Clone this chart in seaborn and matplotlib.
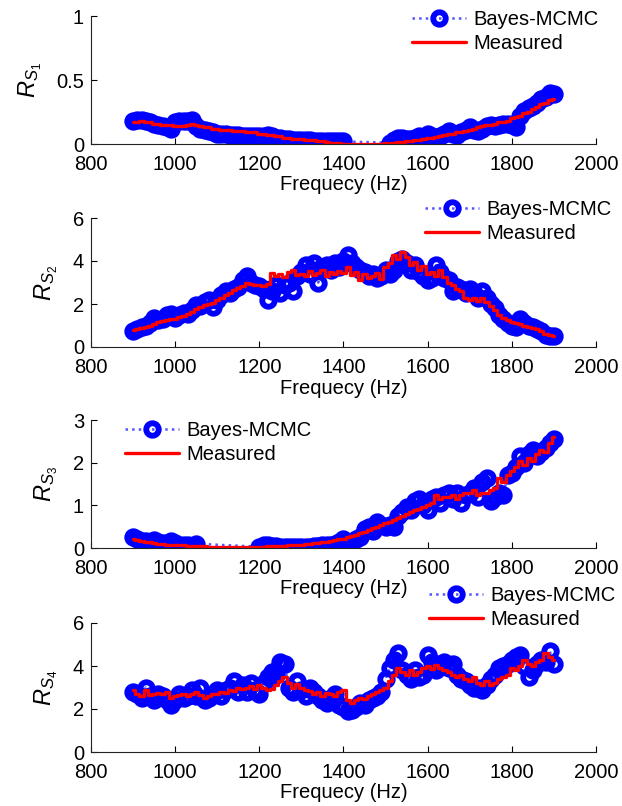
import numpy as np
import matplotlib
matplotlib.use("Agg")
import matplotlib.pyplot as plt
import seaborn as sns

# frequency grid of the measured curves (Hz)
freq = list(range(900, 1901, 10))

# ---- R_S1 ----
rs1_measured = [
    0.17, 0.17, 0.18, 0.17, 0.17, 0.16, 0.16, 0.15, 0.15, 0.15,
    0.14, 0.14, 0.14, 0.15, 0.16, 0.15, 0.14, 0.13, 0.13, 0.12,
    0.12, 0.11, 0.11, 0.11, 0.10, 0.10, 0.10, 0.09, 0.09, 0.09,
    0.08, 0.08, 0.07, 0.07, 0.06, 0.06, 0.05, 0.05, 0.04, 0.04,
    0.04, 0.03, 0.03, 0.03, 0.02, 0.02, 0.015, 0.01, 0.01, 0.005,
    0.003, 0.002, 0.001, 0.0, 0.0, 0.0, 0.0, 0.0, 0.0, 0.002,
    0.004, 0.006, 0.01, 0.013, 0.017, 0.02, 0.025, 0.03, 0.035, 0.04,
    0.045, 0.05, 0.055, 0.06, 0.07, 0.075, 0.08, 0.09, 0.095, 0.10,
    0.11, 0.12, 0.13, 0.14, 0.145, 0.15, 0.16, 0.17, 0.17, 0.18,
    0.20, 0.21, 0.22, 0.24, 0.25, 0.27, 0.29, 0.31, 0.32, 0.34,
    0.35,
]
rs1_bayes_freq = list(range(900, 1401, 10)) + list(range(1510, 1901, 10))
rs1_bayes = [
    0.18, 0.19, 0.19, 0.18, 0.17, 0.16, 0.15, 0.14, 0.13, 0.12,
    0.17, 0.18, 0.18, 0.18, 0.19, 0.14, 0.12, 0.11, 0.10, 0.09,
    0.08, 0.08, 0.08, 0.07, 0.07, 0.07, 0.06, 0.06, 0.06, 0.06,
    0.06, 0.06, 0.07, 0.06, 0.05, 0.05, 0.04, 0.04, 0.03, 0.03,
    0.03, 0.03, 0.03, 0.02, 0.02, 0.02, 0.02, 0.02, 0.02, 0.02, 0.02,
    0.01, 0.03, 0.05, 0.05, 0.04, 0.04, 0.05, 0.06, 0.05,
    0.08, 0.06, 0.05, 0.06, 0.08, 0.10, 0.08, 0.07, 0.09, 0.11,
    0.13, 0.11, 0.10, 0.12, 0.14, 0.15, 0.14, 0.15, 0.16, 0.16,
    0.15, 0.13, 0.22, 0.26, 0.28, 0.30, 0.32, 0.35, 0.37, 0.40,
    0.39,
]

# ---- R_S2 ----
rs2_measured = [
    0.80, 0.85, 0.88, 0.95, 1.00, 1.05, 1.15, 1.20, 1.25, 1.30,
    1.30, 1.40, 1.45, 1.55, 1.65, 1.75, 1.85, 1.95, 2.00, 2.05,
    2.20, 2.30, 2.40, 2.50, 2.65, 2.75, 2.85, 3.00, 2.95, 2.90,
    2.90, 2.85, 2.95, 3.45, 3.30, 3.40, 3.25, 3.50, 3.60, 3.35,
    3.40, 3.30, 3.55, 3.35, 3.45, 3.60, 3.30, 3.50, 3.40, 3.55,
    3.45, 3.70, 3.35, 3.50, 3.10, 3.40, 3.20, 3.30, 3.45, 3.15,
    3.70, 3.90, 4.30, 4.10, 4.40, 4.20, 3.80, 3.95, 3.60, 3.75,
    3.40, 3.50, 3.30, 3.60, 3.25, 3.00, 2.90, 2.70, 2.60, 2.30,
    2.20, 2.30, 2.15, 2.30, 2.10, 1.90, 1.70, 1.50, 1.35, 1.25,
    1.15, 1.10, 1.05, 1.00, 0.95, 0.90, 0.85, 0.75, 0.60, 0.55,
    0.50,
]
rs2_bayes_freq = freq
rs2_bayes = [
    0.75, 0.85, 0.95, 1.00, 1.10, 1.35, 1.25, 1.30, 1.50, 1.55,
    1.35, 1.50, 1.60, 1.55, 1.70, 1.95, 1.90, 2.10, 2.20, 1.85,
    2.20, 2.40, 2.60, 2.50, 2.70, 2.80, 3.10, 3.30, 3.00, 2.90,
    2.85, 2.70, 2.20, 2.60, 2.90, 2.50, 2.90, 3.00, 2.60, 3.30,
    3.50, 3.80, 3.40, 3.90, 3.00, 3.70, 3.80, 3.60, 3.90, 3.70,
    4.00, 4.30, 3.90, 3.70, 3.60, 3.50, 3.30, 3.40, 3.20, 3.30,
    3.60, 3.40, 3.60, 4.00, 4.10, 3.90, 3.60, 3.80, 3.50, 3.30,
    3.10, 3.20, 3.80, 3.50, 3.20, 3.10, 2.60, 2.80, 2.70, 2.50,
    2.70, 2.50, 2.30, 2.60, 2.30, 2.00, 1.80, 1.50, 1.30, 1.10,
    1.00, 0.95, 1.30, 1.10, 1.00, 0.95, 0.85, 0.75, 0.55, 0.50,
    0.50,
]

# ---- R_S3 ----
rs3_measured = [
    0.20, 0.18, 0.16, 0.14, 0.13, 0.12, 0.10, 0.09, 0.08, 0.07,
    0.07, 0.06, 0.06, 0.05, 0.05, 0.04, 0.04, 0.04, 0.03, 0.03,
    0.03, 0.03, 0.03, 0.03, 0.03, 0.03, 0.03, 0.03, 0.03, 0.03,
    0.03, 0.03, 0.04, 0.04, 0.04, 0.05, 0.05, 0.06, 0.06, 0.07,
    0.08, 0.09, 0.10, 0.11, 0.12, 0.13, 0.15, 0.16, 0.18, 0.20,
    0.22, 0.25, 0.28, 0.31, 0.35, 0.38, 0.42, 0.46, 0.50, 0.54,
    0.58, 0.62, 0.66, 0.70, 0.76, 0.80, 0.85, 0.88, 0.92, 0.96,
    1.00, 1.05, 1.25, 1.15, 1.20, 1.20, 1.25, 1.15, 1.25, 1.30,
    1.30, 1.35, 1.25, 1.30, 1.30, 1.35, 1.40, 1.65, 1.55, 1.70,
    1.80, 1.90, 2.05, 1.95, 2.10, 2.05, 2.20, 2.30, 2.25, 2.45,
    2.60,
]
rs3_bayes_freq = list(range(900, 1051, 10)) + list(range(1200, 1901, 10))
rs3_bayes = [
    0.25, 0.20, 0.17, 0.16, 0.15, 0.18, 0.14, 0.12, 0.10, 0.17,
    0.12, 0.08, 0.07, 0.06, 0.05, 0.10,
    0.03, 0.06, 0.06, 0.05, 0.04, 0.03, 0.03, 0.03, 0.02, 0.02,
    0.02, 0.03, 0.03, 0.04, 0.05, 0.06, 0.06, 0.08, 0.10, 0.15,
    0.20, 0.15, 0.15, 0.20, 0.25, 0.45, 0.50, 0.40, 0.60, 0.55,
    0.50, 0.55, 0.50, 0.75, 0.85, 0.95, 0.90, 1.10, 1.15, 1.00,
    0.90, 1.15, 1.20, 1.05, 1.25, 1.30, 1.15, 1.30, 1.05, 1.25,
    1.30, 1.40, 1.20, 1.55, 1.65, 1.10, 1.20, 1.30, 1.25, 1.70,
    1.75, 1.90, 2.15, 2.00, 2.20, 2.30, 2.15, 2.25, 2.35, 2.45,
    2.55,
]

# ---- R_S4 ----
rs4_measured = [
    2.90, 2.70, 2.60, 2.90, 2.65, 2.70, 2.75, 2.70, 2.80, 2.50,
    2.60, 2.65, 2.70, 2.60, 2.70, 2.80, 2.65, 2.50, 2.60, 2.70,
    2.70, 2.80, 2.75, 2.90, 2.85, 3.00, 2.95, 3.00, 3.05, 2.95,
    3.10, 3.00, 2.90, 2.95, 3.10, 3.30, 3.50, 3.20, 3.00, 3.15,
    3.00, 2.90, 2.85, 2.70, 2.80, 2.60, 2.75, 2.70, 2.60, 2.80,
    2.90, 2.40, 2.30, 2.40, 2.50, 2.45, 2.60, 2.70, 2.80, 2.90,
    3.00, 3.30, 3.60, 3.90, 3.70, 3.60, 3.80, 3.60, 3.70, 3.90,
    4.00, 3.85, 4.05, 3.90, 3.80, 3.70, 3.60, 3.50, 3.60, 3.40,
    3.30, 3.50, 3.20, 3.10, 3.30, 3.10, 3.20, 3.40, 3.50, 3.60,
    3.90, 3.80, 4.00, 4.30, 4.10, 4.00, 4.20, 4.30, 4.60, 4.40,
    4.30,
]
rs4_bayes_freq = freq
rs4_bayes = [
    2.80, 2.70, 2.50, 3.00, 2.60, 2.40, 2.70, 2.60, 2.40, 2.20,
    2.40, 2.70, 2.50, 2.60, 2.90, 2.60, 3.00, 2.40, 2.50, 2.70,
    2.90, 2.60, 2.90, 3.00, 3.30, 2.80, 3.10, 2.80, 3.20, 2.90,
    2.70, 3.20, 3.50, 3.70, 3.60, 4.20, 4.10, 3.00, 2.80, 3.30,
    2.90, 2.60, 3.00, 2.80, 2.60, 2.40, 2.30, 2.50, 2.70, 2.20,
    2.10, 1.90, 1.95, 2.10, 2.30, 2.20, 2.40, 2.50, 2.60, 2.80,
    3.40, 3.90, 4.30, 4.60, 3.80, 3.60, 3.40, 3.80, 3.50, 3.60,
    4.50, 4.20, 3.80, 4.00, 4.20, 3.90, 4.10, 3.60, 3.40, 3.30,
    3.10, 3.00, 3.00, 2.90, 3.10, 3.40, 3.60, 3.90, 4.00, 4.10,
    4.30, 4.40, 4.50, 4.00, 3.50, 3.80, 4.10, 4.30, 4.20, 4.70,
    4.10,
]

xticks = [800, 1000, 1200, 1400, 1600, 1800, 2000]
panels = [
    (rs1_bayes_freq, rs1_bayes, rs1_measured, r"$R_{S_{\mathit{1}}}$", [0, 0.5, 1], ["0", "0.5", "1"]),
    (rs2_bayes_freq, rs2_bayes, rs2_measured, r"$R_{S_{\mathit{2}}}$", [0, 2, 4, 6], ["0", "2", "4", "6"]),
    (rs3_bayes_freq, rs3_bayes, rs3_measured, r"$R_{S_{\mathit{3}}}$", [0, 1, 2, 3], ["0", "1", "2", "3"]),
    (rs4_bayes_freq, rs4_bayes, rs4_measured, r"$R_{S_{\mathit{4}}}$", [0, 2, 4, 6], ["0", "2", "4", "6"]),
]

sns.set_style("white")
plt.rcParams["font.family"] = ["Liberation Sans", "DejaVu Sans"]
plt.rcParams["mathtext.fontset"] = "custom"
plt.rcParams["mathtext.rm"] = "Liberation Sans"
plt.rcParams["mathtext.it"] = "Liberation Sans:italic"
plt.rcParams["text.color"] = "black"
plt.rcParams["axes.labelcolor"] = "black"
plt.rcParams["xtick.color"] = "black"
plt.rcParams["ytick.color"] = "black"

fig = plt.figure(figsize=(6.22, 8.06), dpi=100)
W, H = 622.0, 806.0

# axes boxes in pixels: (top, bottom)
boxes = [(16, 144), (218, 347), (420, 548), (623, 752)]
# legend top-left anchors in pixels
legend_pos = [(412, 10), (425, 200), (125, 421), (429, 586)]
left, right = 91, 596
fs = 14.5

for (bx, by, meas, ylab, yt, ytl), (top, bot), (lx, ly) in zip(panels, boxes, legend_pos):
    ax = fig.add_axes([left / W, 1 - bot / H, (right - left) / W, (bot - top) / H])
    sns.lineplot(x=bx, y=by, ax=ax, color="#5555ff", linestyle=":", linewidth=1.8,
                 marker="o", markersize=9.0, markeredgecolor="blue",
                 markerfacecolor="none", markeredgewidth=4.2,
                 label="Bayes-MCMC", sort=False)
    sns.lineplot(x=freq, y=meas, ax=ax, color="red", linewidth=2.4,
                 drawstyle="steps-mid", label="Measured", sort=False)
    ax.set_xlim(800, 2000)
    ax.set_ylim(yt[0], yt[-1])
    ax.set_xticks(xticks)
    ax.set_xticklabels([str(t) for t in xticks])
    ax.set_yticks(yt)
    ax.set_yticklabels(ytl)
    ax.set_xlabel("Frequecy (Hz)", fontsize=fs, labelpad=1)
    ax.set_ylabel(ylab, fontsize=fs + 2.5, labelpad=9)
    ax.tick_params(direction="in", length=4, width=0.8, labelsize=fs,
                   bottom=True, left=True, top=False, right=False)
    ax.tick_params(axis="x", pad=8)
    ax.tick_params(axis="y", pad=5)
    for s in ["top", "right"]:
        ax.spines[s].set_visible(False)
    for s in ["left", "bottom"]:
        ax.spines[s].set_color("#222222")
        ax.spines[s].set_linewidth(0.8)
    ax.legend(loc="upper left", bbox_to_anchor=(lx / W, 1 - ly / H),
              bbox_transform=fig.transFigure, frameon=False, fontsize=fs,
              borderpad=0, borderaxespad=0, handlelength=2.7,
              handletextpad=0.35, labelspacing=0.25, numpoints=1)

fig.savefig("out.png", dpi=100)
